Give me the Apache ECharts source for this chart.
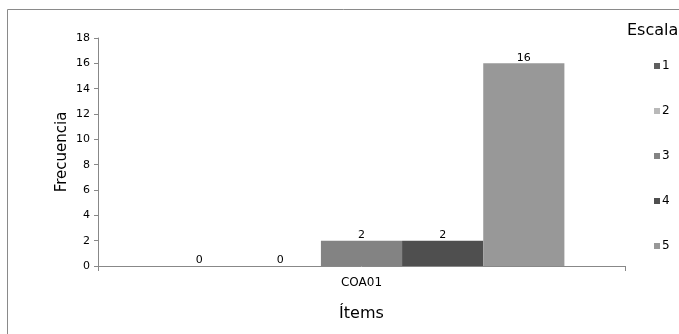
<!DOCTYPE html>
<html><head><meta charset="utf-8">
<script src="https://cdn.jsdelivr.net/npm/echarts@6/dist/echarts.min.js"></script>
<style>html,body{margin:0;padding:0;background:#fff}#c{width:679px;height:334px}</style>
</head><body><div id="c"></div>
<script>
const categories = ['COA01'];
const seriesNames = ['1', '2', '3', '4', '5'];
const values1 = [0];
const values2 = [0];
const values3 = [2];
const values4 = [2];
const values5 = [16];
const yTicks = [0, 2, 4, 6, 8, 10, 12, 14, 16, 18];
const colors = ['#5f5f5f', '#b9b9b9', '#838383', '#4f4f4f', '#989898'];
const allValues = [values1, values2, values3, values4, values5];

const chart = echarts.init(document.getElementById('c'));
const font = 'DejaVu Sans, sans-serif';
chart.setOption({
  animation: false,
  color: colors,
  graphic: [{
    type: 'rect', shape: {x: 7.5, y: 9.5, width: 700, height: 400},
    style: {fill: 'none', stroke: '#8a8a8a', lineWidth: 1}, silent: true
  }, {
    type: 'text', left: 627, top: 23,
    style: {text: 'Escala', font: '16px ' + font, fill: '#000'}
  }],
  grid: {left: 98, top: 38, right: 54, bottom: 68, containLabel: false},
  legend: {
    orient: 'vertical', left: 649, top: 55, itemGap: 33,
    itemWidth: 6, itemHeight: 6, icon: 'rect',
    textStyle: {fontSize: 12, fontFamily: font, color: '#000', padding: [0, 0, 0, -3]},
    data: seriesNames
  },
  xAxis: {
    type: 'category', data: categories,
    name: 'Ítems', nameLocation: 'middle', nameGap: 40,
    nameTextStyle: {fontSize: 16, fontFamily: font, color: '#000'},
    axisLine: {lineStyle: {color: '#888'}},
    axisTick: {show: true, length: 5, lineStyle: {color: '#888'}},
    axisLabel: {fontSize: 12, fontFamily: font, color: '#000', margin: 11}
  },
  yAxis: {
    type: 'value', min: yTicks[0], max: yTicks[yTicks.length - 1], interval: 2,
    name: 'Frecuencia', nameLocation: 'middle', nameGap: 28, nameMoveOverlap: false,
    nameTextStyle: {fontSize: 15, fontFamily: font, color: '#000'},
    axisLine: {show: true, lineStyle: {color: '#888'}},
    axisTick: {show: true, length: 4, lineStyle: {color: '#888'}},
    axisLabel: {fontSize: 11, fontFamily: font, color: '#000', margin: 8},
    splitLine: {show: false}
  },
  series: seriesNames.map((n, i) => ({
    name: n, type: 'bar', data: allValues[i],
    barGap: '0%', barCategoryGap: '23%',
    itemStyle: {color: colors[i]},
    label: {show: true, position: 'top', distance: 0, fontSize: 11, fontFamily: font, color: '#000'}
  }))
});
</script></body></html>
